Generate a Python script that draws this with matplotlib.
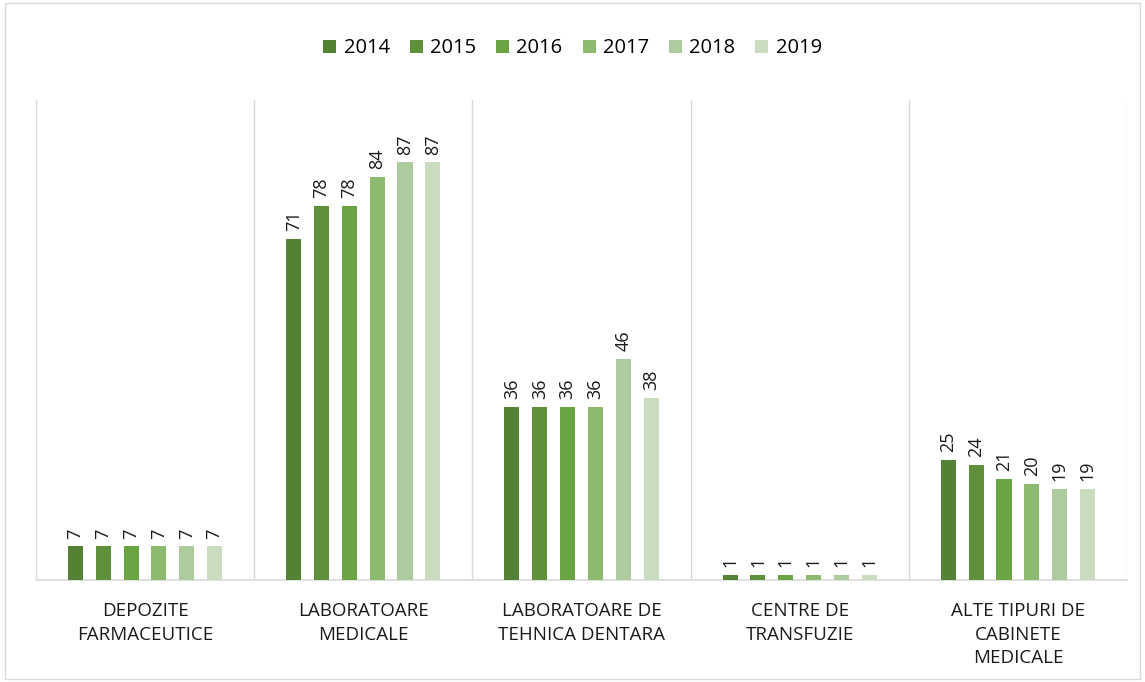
import numpy as np
import matplotlib.pyplot as plt
from matplotlib.patches import Rectangle

plt.rcParams['font.family'] = ['Open Sans', 'DejaVu Sans']

categories = ['DEPOZITE\nFARMACEUTICE', 'LABORATOARE\nMEDICALE',
              'LABORATOARE DE\nTEHNICA DENTARA', 'CENTRE DE\nTRANSFUZIE',
              'ALTE TIPURI DE\nCABINETE\nMEDICALE']
years = ['2014', '2015', '2016', '2017', '2018', '2019']
values = {
    '2014': [7, 71, 36, 1, 25],
    '2015': [7, 78, 36, 1, 24],
    '2016': [7, 78, 36, 1, 21],
    '2017': [7, 84, 36, 1, 20],
    '2018': [7, 87, 46, 1, 19],
    '2019': [7, 87, 38, 1, 19],
}
colors = ['#548235', '#5f913a', '#6aa442', '#8cbb6f', '#adcb9c', '#c9dcc0']

fig = plt.figure(figsize=(11.45, 6.82), dpi=100)
ax = fig.add_axes([0.0314, 0.1496, 0.9529, 0.7038])

x = np.arange(len(categories))
step = 0.1275
width = 0.069
for i, y in enumerate(years):
    pos = x + (i - 2.5) * step
    bars = ax.bar(pos, values[y], width, color=colors[i], label=y, zorder=3)
    for b, v in zip(bars, values[y]):
        ax.text(b.get_x() + b.get_width() / 2, v + 1.6, str(v), rotation=90,
                ha='center', va='bottom', fontsize=13, color='#1a1a1a')

ax.set_xlim(-0.5, len(categories) - 0.5)
ax.set_ylim(0, 100)
ax.set_yticks([])
ax.set_xticks(x)
ax.set_xticklabels(categories, fontsize=13.5, linespacing=1.4, color='#1a1a1a')
ax.tick_params(axis='x', length=0, pad=16)
for s in ['top', 'right', 'left']:
    ax.spines[s].set_visible(False)
ax.spines['bottom'].set_color('#d9d9d9')
ax.spines['bottom'].set_linewidth(1.2)
for b in np.arange(-0.5, len(categories), 1.0):
    ax.axvline(b, color='#d9d9d9', lw=1, zorder=1)

ax.legend(loc='center', bbox_to_anchor=(0.5, 0.929), bbox_transform=fig.transFigure,
          ncol=6, frameon=False, fontsize=14.5, handlelength=0.65, handleheight=0.65,
          handletextpad=0.35, columnspacing=1.0)

fig.patches.append(Rectangle((0.004, 0.004), 0.992, 0.992, transform=fig.transFigure,
                             fill=False, edgecolor='#d9d9d9', lw=1))

fig.savefig('out.png', dpi=100)
